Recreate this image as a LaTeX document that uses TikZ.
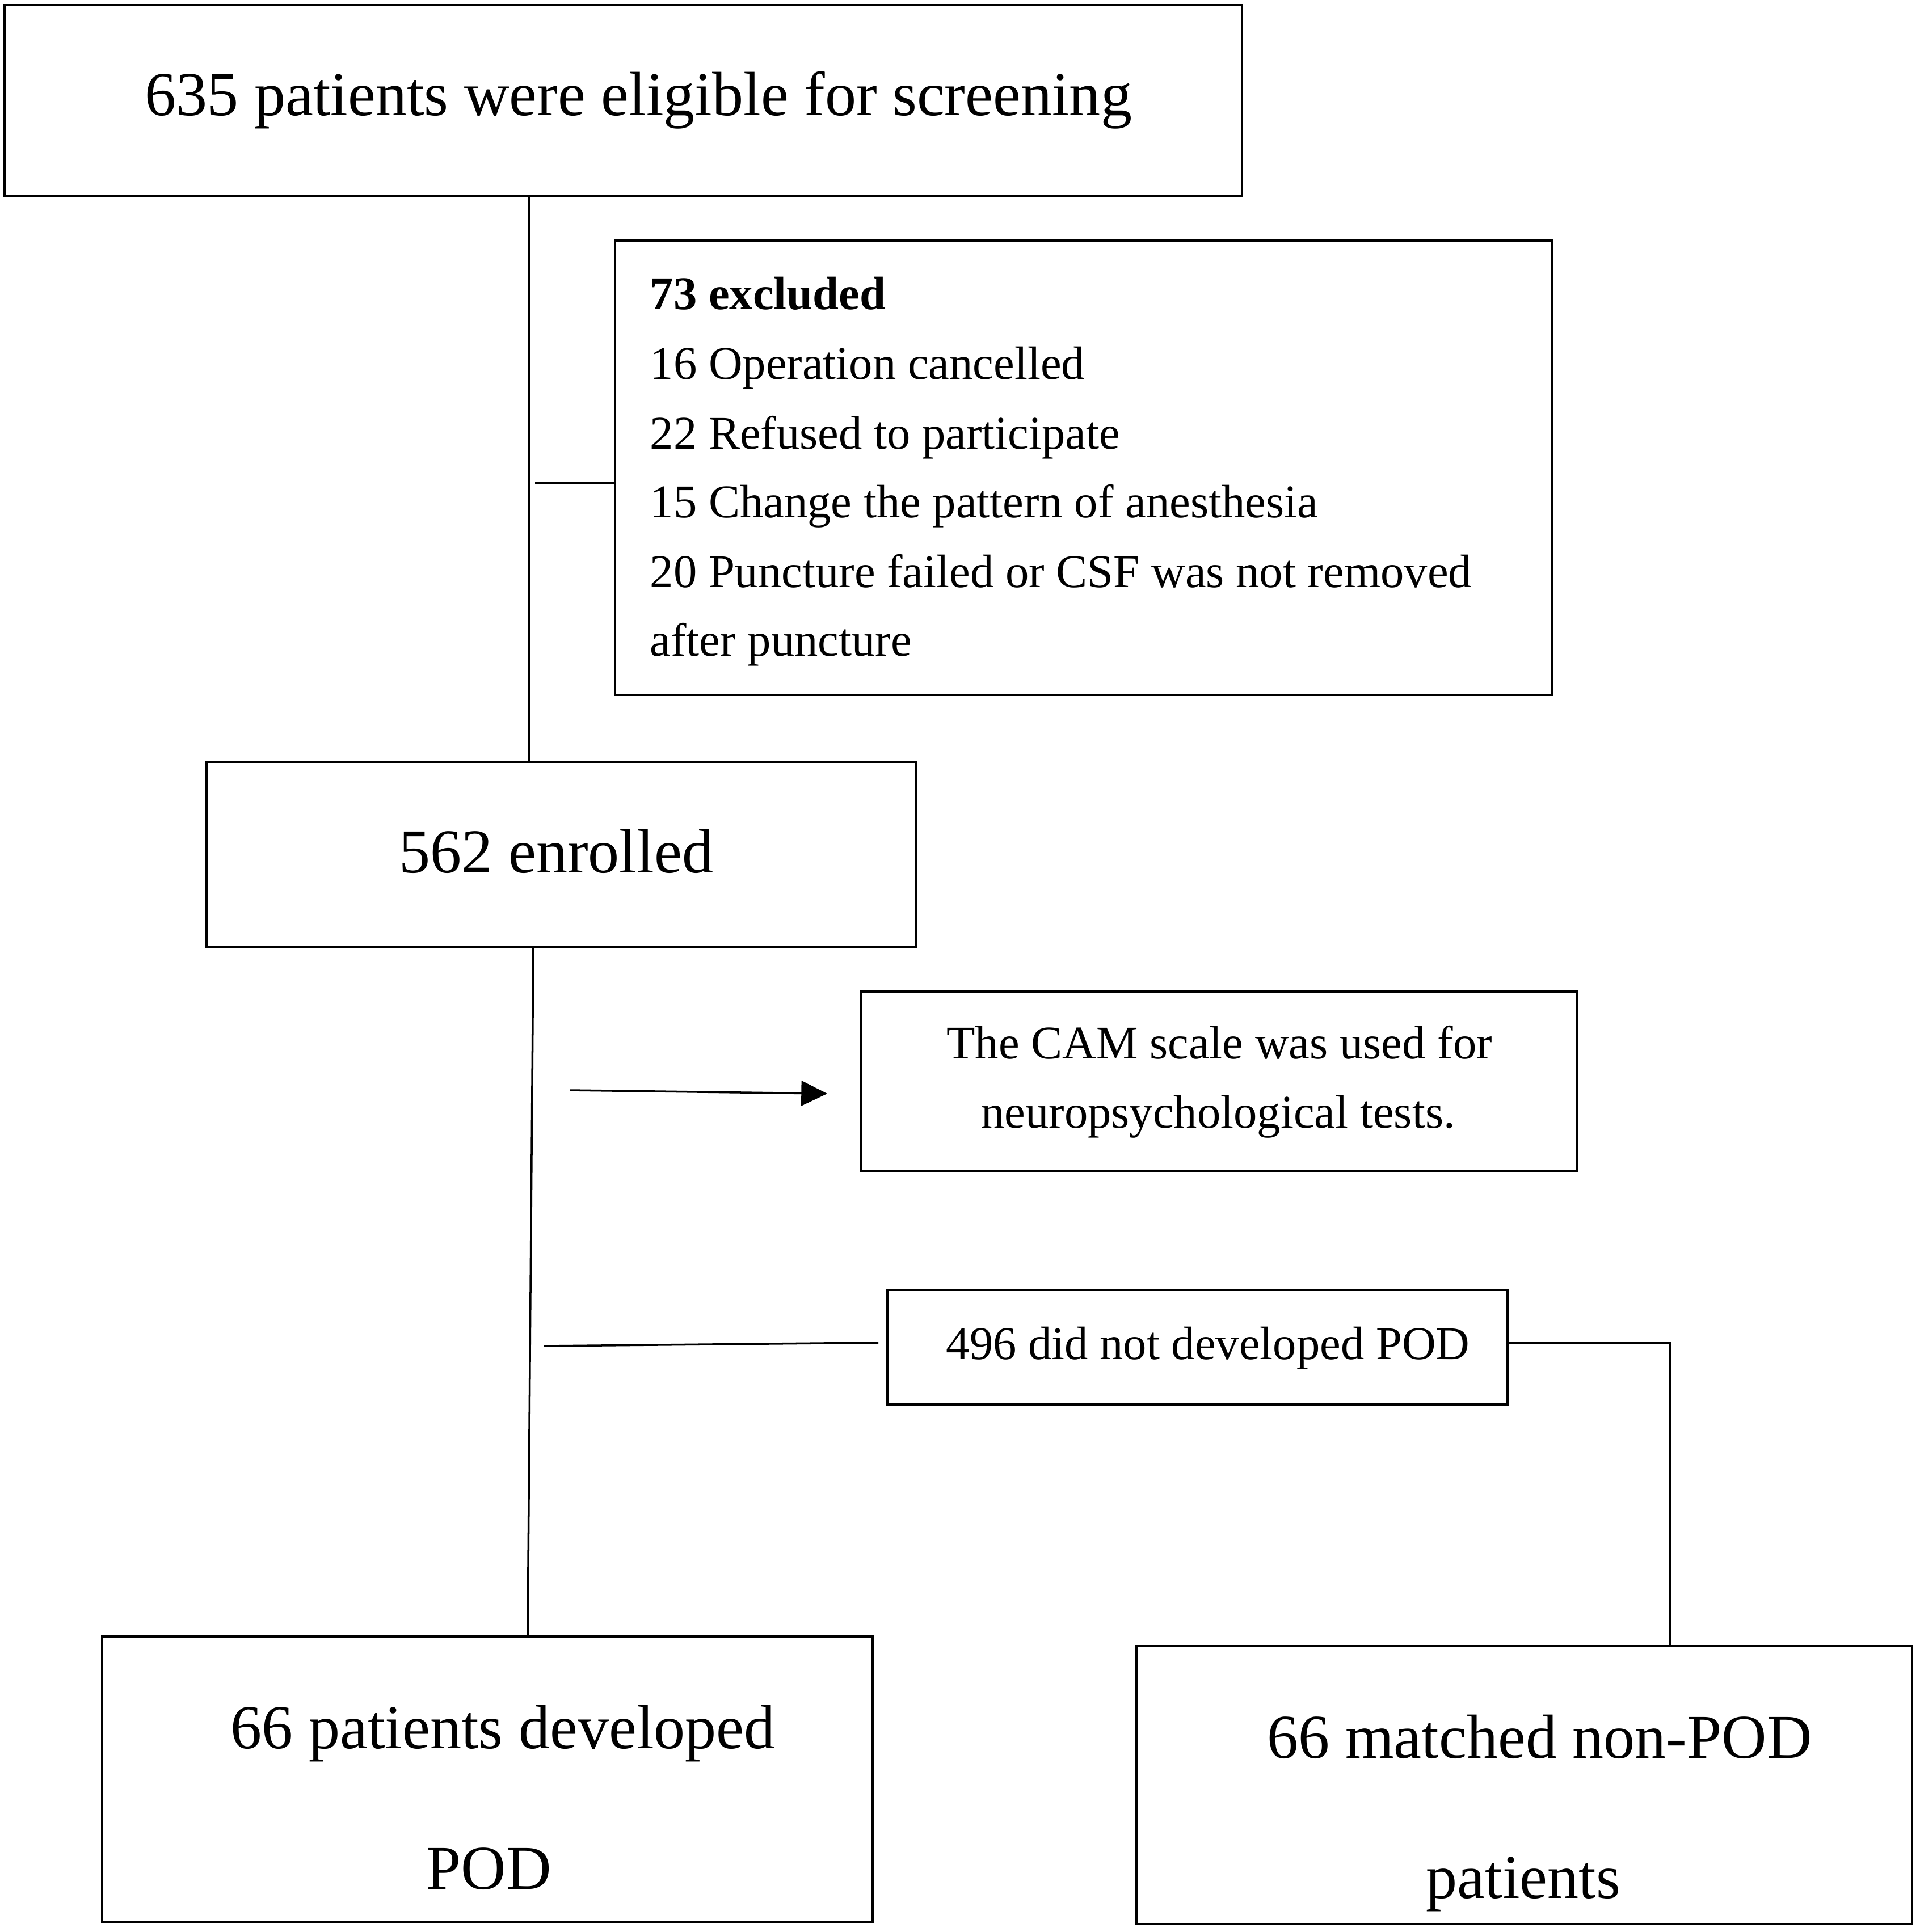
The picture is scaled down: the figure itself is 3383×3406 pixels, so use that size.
\documentclass[tikz,border=0pt]{standalone}
\usepackage{fontspec}
\setmainfont{Liberation Serif}
\usetikzlibrary{fit,arrows.meta}
\newcommand{\bigtxt}{\fontsize{31.3}{37}\selectfont}
\newcommand{\smalltxt}{\fontsize{23.5}{28}\selectfont}
\begin{document}
\begin{tikzpicture}[x=0.01cm,y=-0.01cm,
  boxnode/.style={draw=black,line width=1.1pt,inner sep=0pt,rectangle},
  bigt/.style={anchor=base west,inner sep=0pt,font=\bigtxt},
  smallt/.style={anchor=base west,inner sep=0pt,font=\smalltxt},
  smallc/.style={anchor=base,inner sep=0pt,font=\smalltxt},
  conn/.style={draw=black,line width=1pt}]
\useasboundingbox (0,0) rectangle (3383,3406);
\fill[white] (0,0) rectangle (3383,3406);
% boxes
\node[boxnode,fit={(8,9) (2189,346)}] (box1) {};
\node[boxnode,fit={(1084,424) (2735,1225)}] (box2) {};
\node[boxnode,fit={(364,1344) (1614,1669)}] (box3) {};
\node[boxnode,fit={(1518,1748) (2780,2065)}] (box4) {};
\node[boxnode,fit={(1564,2274) (2657,2476)}] (box5) {};
\node[boxnode,fit={(180,2885) (1538,3388)}] (box6) {};
\node[boxnode,fit={(2003,2902) (3370,3392)}] (box7) {};
% texts
\node[bigt] (t1) at (255,204) {635 patients were eligible for screening};
\node[smallt] (t2a) at (1145,545) {\bfseries 73 excluded};
\node[smallt] (t2b) at (1145,668) {16 Operation cancelled};
\node[smallt] (t2c) at (1145,791) {22 Refused to participate};
\node[smallt] (t2d) at (1145,912) {15 Change the pattern of anesthesia};
\node[smallt] (t2e) at (1145,1035) {20 Puncture failed or CSF was not removed};
\node[smallt] (t2f) at (1145,1156) {after puncture};
\node[bigt] (t3) at (703,1538) {562 enrolled};
\node[smallc] (t4a) at (2149,1866) {The CAM scale was used for};
\node[smallc] (t4b) at (2147,1988) {neuropsychological tests.};
\node[smallt] (t5) at (1667,2396) {496 did not developed POD};
\node[bigt] (t6a) at (406,3082) {66 patients developed};
\node[bigt] (t6b) at (751,3330) {POD};
\node[bigt] (t7a) at (2233,3099) {66 matched non-POD};
\node[bigt] (t7b) at (2513,3346) {patients};
% connector coordinates
\coordinate (v1) at (932,0);
\coordinate (v2a) at (940,0);
\coordinate (v2b) at (930,0);
\coordinate (h1) at (943,851);
\coordinate (arrS) at (1005,1922);
\coordinate (arrE) at (1458,1928);
\coordinate (h2a) at (959,2373);
\coordinate (h2b) at (1548,2367);
\coordinate (r1) at (2944,2367);
% connectors
\draw[conn] (box1.south -| v1) -- (box3.north -| v1);
\draw[conn] (h1) -- (box2.west |- h1);
\draw[conn] (box3.south -| v2a) -- (box6.north -| v2b);
\draw[conn,-{Triangle[length=13pt,width=12.5pt]}] (arrS) -- (arrE);
\draw[conn] (h2a) -- (h2b);
\draw[conn] (box5.east |- r1) -- (r1) -- (box7.north -| r1);
\end{tikzpicture}
\end{document}
